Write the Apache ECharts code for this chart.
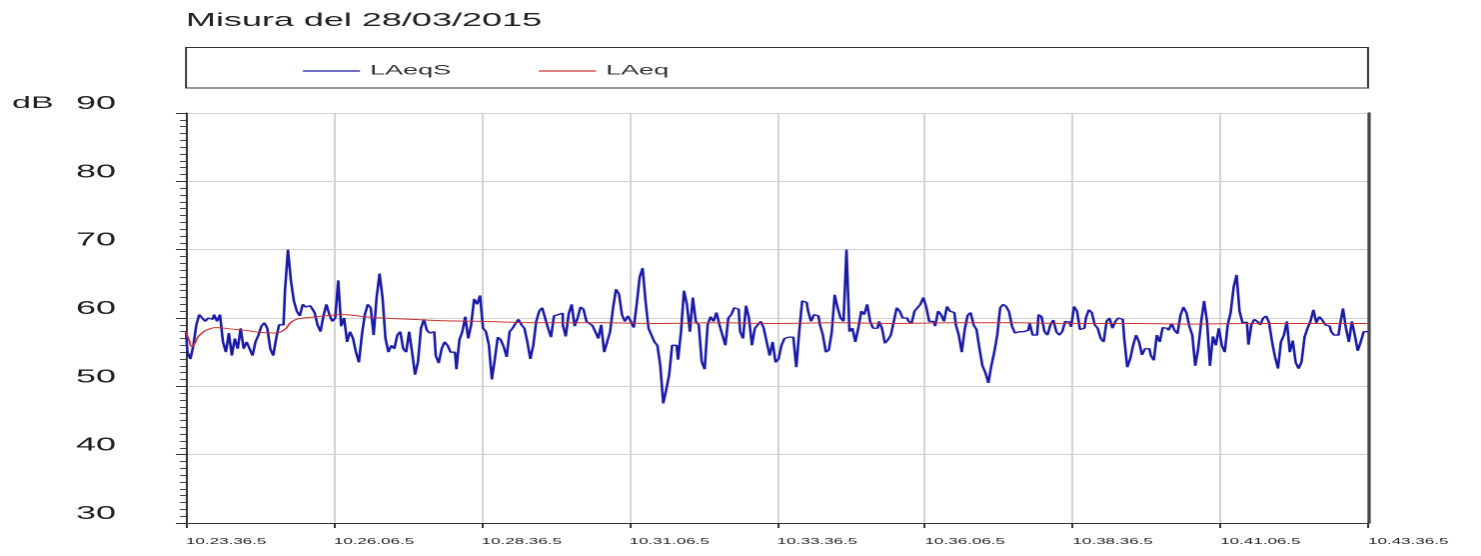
<!DOCTYPE html>
<html>
<head>
<meta charset="utf-8">
<script src="https://cdn.jsdelivr.net/npm/echarts@6/dist/echarts.min.js"></script>
<style>
  html, body { margin: 0; padding: 0; background: #fff; overflow: hidden; }
  /* the reference image is stretched ~2x horizontally, so draw at half width and stretch */
  #chart { width: 741px; height: 556px; transform: scaleX(1.99865); transform-origin: 0 0; }
</style>
</head>
<body>
<div id="chart"></div>
<script>
// seconds between LAeqS samples, starting at 10.23.36.5
const stepSec = 3;

const xLabels = ['10.23.36.5', '10.26.06.5', '10.28.36.5', '10.31.06.5', '10.33.36.5',
  '10.36.06.5', '10.38.36.5', '10.41.06.5', '10.43.36.5'];

const laeqS = [
  58, 55, 54, 56, 59, 60.5, 60, 59.5, 60, 59.8, 60.5, 59.5, 60.5, 56.5, 55, 57.8, 54.5, 57,
  55.5, 58.5, 55.5, 56.5, 55.5, 54.5, 56.5, 57.5, 58.8, 59.3, 58.5, 55.5, 54.5, 57, 59, 59, 64, 70,
  65.5, 62.5, 61, 60.3, 62, 61.6, 61.8, 61.5, 60.8, 59, 58, 60.3, 62, 60.5, 59.5, 60, 65.5, 58.8,
  60, 56.5, 58, 57, 55, 53.5, 57.5, 60.5, 62, 61.5, 57.5, 63, 66.5, 63, 57, 55, 56, 55.5,
  57.5, 58, 55.5, 55, 58, 55, 51.7, 53.6, 58.5, 59.8, 58.2, 57.8, 58, 54.5, 53.4, 55.5, 56.5, 56,
  55, 55, 52.5, 56.8, 58, 60.2, 57, 59, 62.8, 62, 63.3, 58.5, 58, 56, 51, 54, 57.2, 56.8, 55.8,
  54.3, 58, 58.5, 59.2, 59.8, 59, 58.5, 56.5, 54, 56, 59.5, 61, 61.5, 60, 58.5, 57.2, 60.3, 60.5,
  60.7, 59, 57.3, 60.6, 62, 58.8, 60, 61.6, 61.3, 59.5, 59.2, 58.9, 58, 57, 59, 55, 56.5, 58,
  61.5, 64.2, 63.5, 60.5, 59.5, 60.3, 59.5, 58.6, 62, 66, 67.3, 62.4, 58.5, 57.5, 56.5, 56, 53, 47.5,
  49.5, 51.7, 56, 56, 53.9, 58, 64, 62, 58, 63, 59.5, 59, 53.6, 52.5, 59, 60.2, 59.5, 60.8,
  59, 57.5, 56, 60, 60.5, 61.5, 61.3, 58, 57, 61.8, 60, 56, 58.5, 59, 59.5, 58.5, 56.5, 54.5,
  56.5, 53.5, 54, 56, 57, 57.2, 57.2, 57, 52.8, 58, 62.5, 62.3, 61, 59.5, 60.5, 60.3, 59, 57.5, 55,
  55.3, 57.9, 63.4, 61.5, 60, 59.5, 70, 58, 58.5, 56.5, 58.5, 61, 60.5, 62, 59.5, 58.5, 58.5, 59.5,
  58.5, 56.3, 56.8, 57.5, 59.5, 61.5, 61, 60, 60, 59.5, 59.2, 61, 61.5, 62, 63, 61.6, 59.5, 59.5, 58.8,
  61, 60.5, 59.5, 61.7, 61, 60.8, 59, 57.5, 55, 58.3, 60.4, 60.8, 59, 58.3, 55.5, 53, 52, 50.5,
  53, 55, 57.5, 61.5, 62, 61.7, 60.9, 58.8, 57.8, 58, 58, 58, 58.2, 59.2, 57.5, 57.5, 60.5, 60.2, 58,
  57.5, 59, 59.7, 58, 57.5, 58, 59.5, 59.4, 58.7, 61.7, 61, 58.3, 58.5, 60, 61.2, 60.8, 59, 58.5,
  57, 56.5, 59.5, 60, 58.5, 59.5, 60, 59.8, 57, 52.8, 54, 56, 57.5, 56.5, 54.6, 55.5, 55.5, 54.5,
  53.8, 57.5, 56.5, 58.6, 58.5, 58.2, 59.2, 58.2, 57.7, 60.4, 61.6, 60.8, 58.8, 57.5, 53, 55.5, 59.4, 62.5,
  59.5, 53, 57.3, 56, 58.5, 56, 55, 59, 60.8, 64.5, 66.3, 61, 59.3, 59.4, 56.1, 59, 59.8, 59.5, 59,
  60, 60.3, 59.3, 56.5, 54.3, 52.6, 56.5, 57.5, 59.5, 55, 56.7, 53.5, 52.6, 53.6, 57.2, 58.5, 59.5, 61.2,
  59.3, 60.2, 59.7, 59, 58.8, 58, 57.5, 57.5, 59, 61.4, 58.5, 56.5, 59.5, 57.5, 55.2, 56.5, 58, 58
];

const laeqTimes = [0, 3, 6, 9, 12, 18, 24, 30, 45, 60, 75, 90, 100, 106, 112, 120, 140, 160, 180,
  200, 230, 260, 300, 360, 420, 480, 540, 600, 660, 720, 780, 840, 900, 960, 1020, 1080, 1140, 1200];
const laeq = [58.0, 56.8, 55.8, 56.3, 57.2, 58.0, 58.4, 58.6, 58.4, 58.2, 57.9, 57.8, 58.3, 59.3,
  59.8, 60.0, 60.3, 60.5, 60.2, 60.0, 59.8, 59.6, 59.5, 59.3, 59.3, 59.2, 59.3, 59.2, 59.3, 59.2,
  59.3, 59.3, 59.2, 59.2, 59.1, 59.2, 59.2, 59.2];

const yTicks = { min: 30, max: 90, step: 10 };

const font = '"Liberation Sans", Arial, sans-serif';

let getchart = echarts.init(document.getElementById('chart'), null, { devicePixelRatio: 2 });

const option = {
  backgroundColor: '#fff',
  animation: false,
  title: {
    text: 'Misura del 28/03/2015',
    left: 93,
    top: 12,
    padding: 0,
    textStyle: { fontFamily: font, fontSize: 18, fontWeight: 'normal', color: '#222' }
  },
  legend: {
    left: 151.6,
    top: 64,
    padding: 0,
    icon: 'rect',
    itemWidth: 28.5,
    itemHeight: 1.2,
    itemGap: 44,
    textStyle: { fontFamily: font, fontSize: 13.5, color: '#333' },
    data: ['LAeqS', 'LAeq']
  },
  graphic: [
    {
      type: 'rect',
      shape: { x: 93.06, y: 47.5, width: 591.4, height: 40.5 },
      style: { fill: 'none', stroke: '#333', lineWidth: 1 }
    },
    {
      type: 'text',
      left: 6,
      top: 95,
      style: { text: 'dB', font: '17px ' + font, fill: '#222' }
    }
  ],
  grid: {
    left: 93.06,
    right: 56.5,
    top: 113,
    bottom: 33,
    containLabel: false
  },
  xAxis: {
    type: 'value',
    min: 0,
    max: 1200,
    interval: 150,
    axisLine: { show: true, lineStyle: { color: '#333', width: 1 } },
    axisTick: { show: true, length: 5, lineStyle: { color: '#333' } },
    axisLabel: {
      showMinLabel: true,
      showMaxLabel: true,
      align: 'left',
      margin: 14,
      fontFamily: font,
      fontSize: 8.5,
      color: '#222',
      formatter: function (v) { return xLabels[Math.round(v / 150)] || ''; }
    },
    splitLine: { show: true, lineStyle: { color: '#d4d4d4', width: 1 } }
  },
  yAxis: [
    {
      type: 'value',
      min: yTicks.min,
      max: yTicks.max,
      interval: yTicks.step,
      axisLine: { show: true, lineStyle: { color: '#333', width: 1 } },
      axisTick: { show: true, length: 5, lineStyle: { color: '#333' } },
      minorTick: { show: true, splitNumber: 10, length: 3, lineStyle: { color: '#444' } },
      axisLabel: {
        margin: 35,
        verticalAlign: 'bottom',
        fontFamily: font,
        fontSize: 18,
        color: '#222'
      },
      splitLine: { show: true, lineStyle: { color: '#d0d0d0', width: 1 } }
    },
    {
      type: 'value',
      position: 'right',
      min: yTicks.min,
      max: yTicks.max,
      interval: yTicks.step,
      axisLine: { show: true, lineStyle: { color: '#444', width: 1.6 } },
      axisTick: { show: false },
      axisLabel: { show: false },
      splitLine: { show: false }
    }
  ],
  series: [
    {
      name: 'LAeqS',
      type: 'line',
      step: 'middle',
      symbol: 'none',
      color: '#1a1aa8',
      lineStyle: { color: '#1a1aa8', width: 1.3 },
      data: laeqS.map((v, i) => [i * stepSec, v]),
      z: 3
    },
    {
      name: 'LAeq',
      type: 'line',
      symbol: 'none',
      smooth: true,
      color: '#c83232',
      lineStyle: { color: '#c83232', width: 1 },
      data: laeqTimes.map((t, i) => [t, laeq[i]]),
      z: 4
    }
  ]
};

getchart.setOption(option);
</script>
</body>
</html>
